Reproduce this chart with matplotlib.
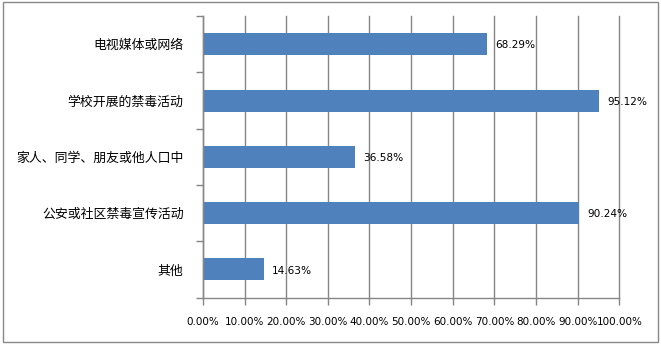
import matplotlib
matplotlib.use("Agg")
import matplotlib.pyplot as plt
from matplotlib.patches import Rectangle
import numpy as np

plt.rcParams['font.family'] = ['Noto Sans CJK SC', 'DejaVu Sans']

categories = ["电视媒体或网络", "学校开展的禁毒活动", "家人、同学、朋友或他人口中", "公安或社区禁毒宣传活动", "其他"]
values = [68.29, 95.12, 36.58, 90.24, 14.63]
xticks = [0, 10, 20, 30, 40, 50, 60, 70, 80, 90, 100]
xtick_labels = ["%.2f%%" % t for t in xticks]

fig = plt.figure(figsize=(6.61, 3.44), dpi=100)
fig.patches.append(Rectangle((0.004, 0.006), 0.992, 0.988, transform=fig.transFigure,
                             fill=False, edgecolor="#898989", linewidth=1.0))
ax = fig.add_axes([0.307, 0.135, 0.630, 0.818])

n = len(categories)
y = np.arange(n)
color = "#4F81BD"
ax.barh(y, values, height=0.39, color=color, zorder=3)
ax.set_ylim(n - 0.5, -0.5)
ax.set_xlim(0, 100)

ax.set_xticks(xticks)
ax.set_xticklabels(xtick_labels, family=['DejaVu Sans'], fontsize=7.5)
ax.set_yticks(y)
ax.set_yticklabels(categories, fontsize=9.3)
ax.tick_params(axis='y', length=0, pad=14)
ax.set_yticks(np.arange(-0.5, n + 0.5, 1), minor=True)
ax.tick_params(axis='y', which='minor', length=5, color="#868686", width=1)
ax.tick_params(axis='x', length=5, color="#868686", width=1, pad=9)

ax.grid(axis='x', color="#868686", linewidth=1, zorder=0)
for gl in ax.get_xgridlines():
    gl.set_clip_on(False)
for s in ['top', 'right']:
    ax.spines[s].set_visible(False)
for s in ['left', 'bottom']:
    ax.spines[s].set_color("#868686")
    ax.spines[s].set_linewidth(1)
    ax.spines[s].set_zorder(4)

for yi, v in zip(y, values):
    ax.text(v + 2.0, yi + 0.02, "%.2f%%" % v, va='center', ha='left',
            fontsize=7.6, family=['DejaVu Sans'], color="#000000", zorder=5)

fig.savefig("out.png", dpi=100)
